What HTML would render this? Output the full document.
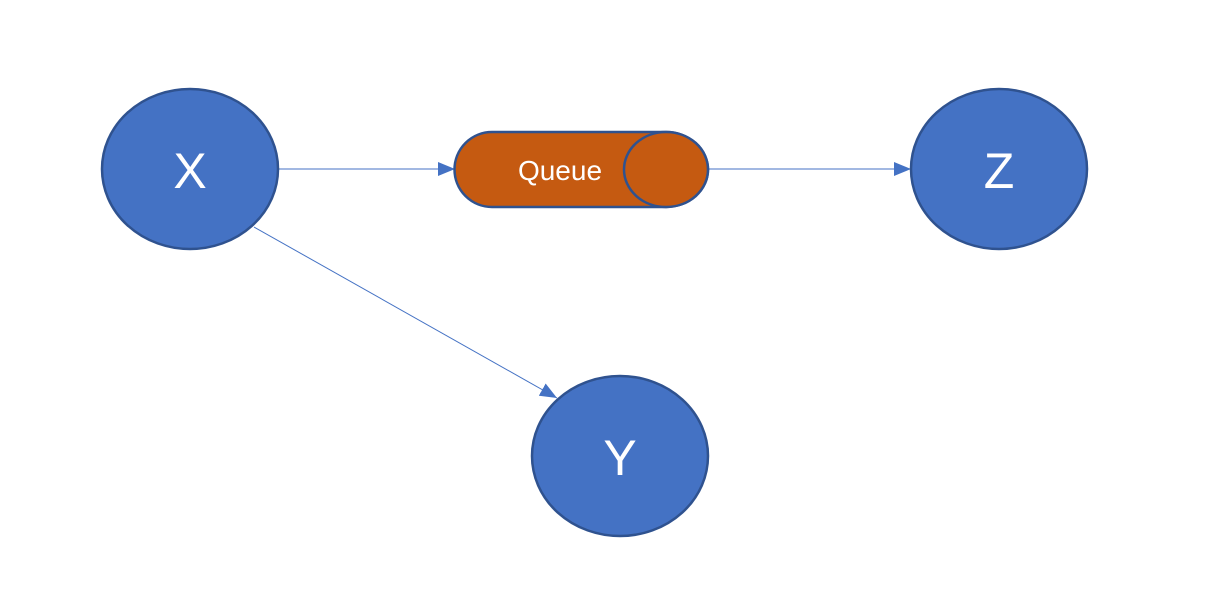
<!DOCTYPE html>
<html><head><style>
html,body{margin:0;padding:0;background:#fff;width:1228px;height:614px;overflow:hidden}
</style></head><body>
<svg width="1228" height="614" xmlns="http://www.w3.org/2000/svg" font-family="Liberation Sans, sans-serif">
<defs>
<marker id="b" markerWidth="18" markerHeight="14" refX="17" refY="7" orient="auto" markerUnits="userSpaceOnUse">
<path d="M0,0 L17,7 L0,14 z" fill="#4472c4"/>
</marker>
</defs>
<line x1="279" y1="169" x2="455" y2="169" stroke="#4472c4" stroke-width="1" marker-end="url(#b)"/>
<line x1="708" y1="169" x2="911" y2="169" stroke="#4472c4" stroke-width="1" marker-end="url(#b)"/>
<line x1="254" y1="227" x2="557" y2="398" stroke="#4472c4" stroke-width="1" marker-end="url(#b)"/>
<ellipse cx="190" cy="169" rx="88" ry="80" fill="#4472c4" stroke="#2f528f" stroke-width="2.5"/>
<ellipse cx="999" cy="169" rx="88" ry="80" fill="#4472c4" stroke="#2f528f" stroke-width="2.5"/>
<ellipse cx="620" cy="456" rx="88" ry="80" fill="#4472c4" stroke="#2f528f" stroke-width="2.5"/>
<path d="M492,132 L666,132 A42,37.5 0 0 1 666,207 L492,207 A37.5,37.5 0 0 1 492,132 z" fill="#c55a11" stroke="#2f528f" stroke-width="2.5"/>
<ellipse cx="666" cy="169.5" rx="42" ry="37.5" fill="#c55a11" stroke="#2f528f" stroke-width="2.5"/>
<text x="560" y="180" font-size="28" fill="#fff" text-anchor="middle">Queue</text>
<text x="190" y="188" font-size="50" fill="#fff" text-anchor="middle">X</text>
<text x="999" y="188" font-size="50" fill="#fff" text-anchor="middle">Z</text>
<text x="620" y="475" font-size="50" fill="#fff" text-anchor="middle">Y</text>
</svg>
</body></html>
